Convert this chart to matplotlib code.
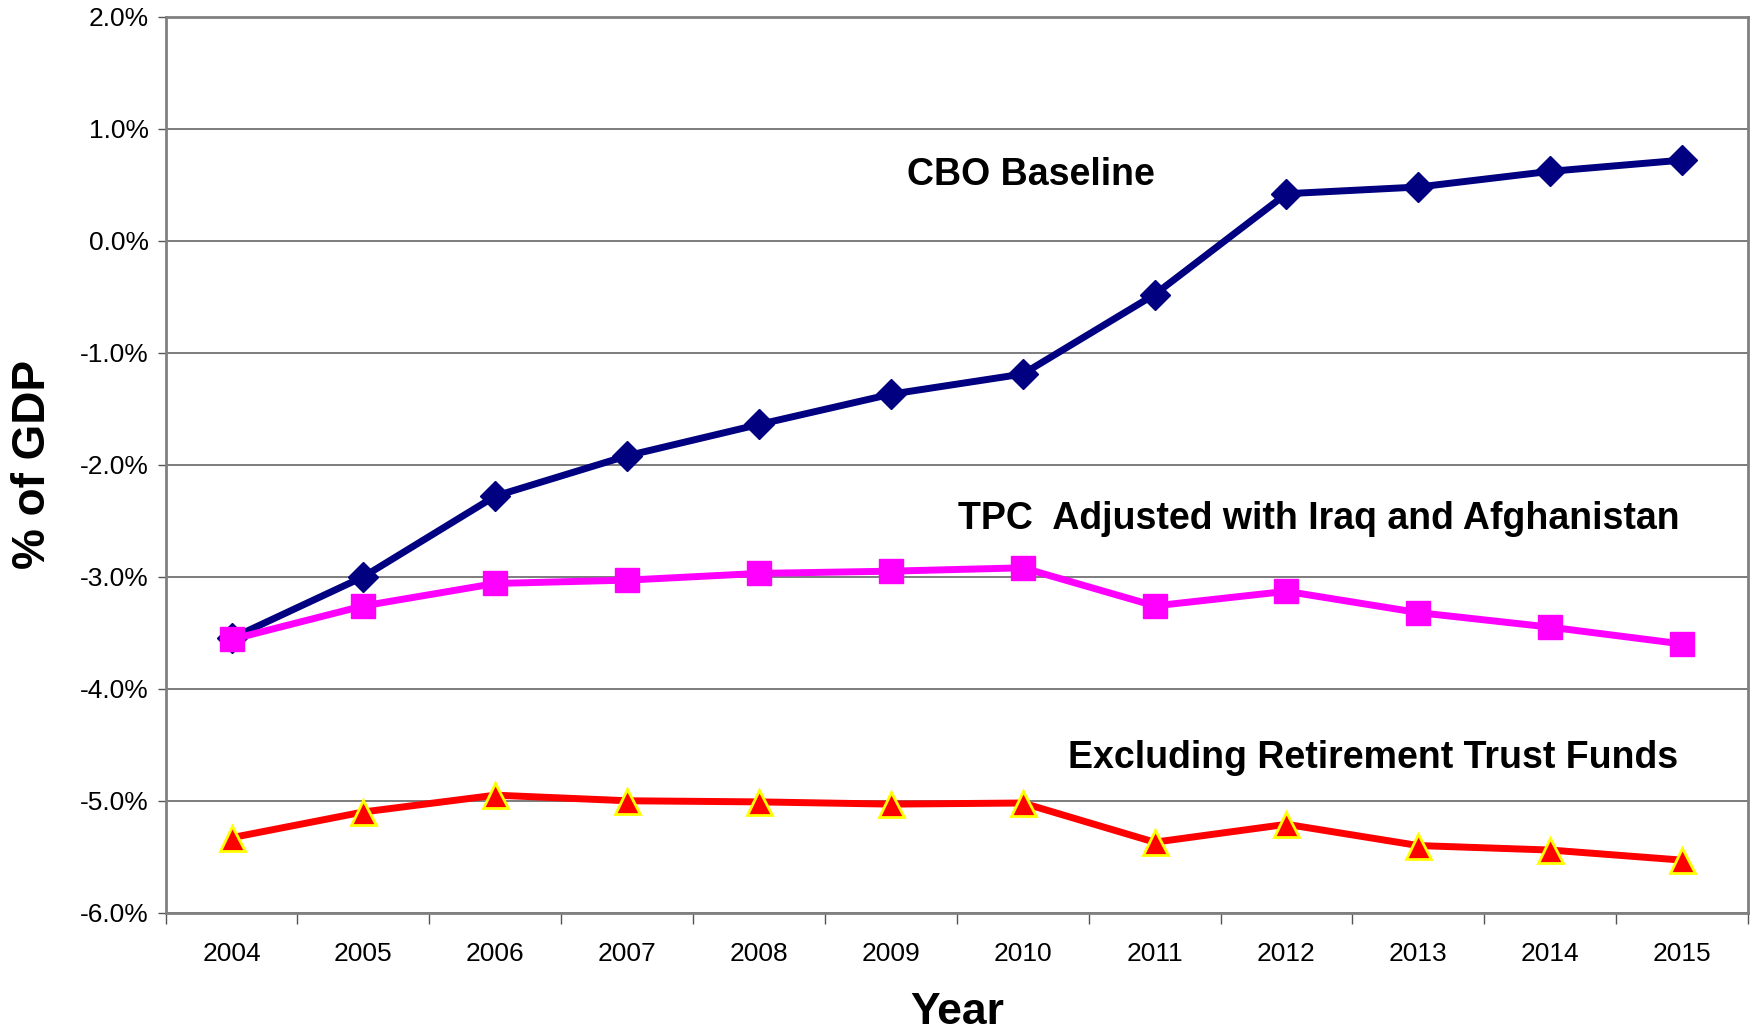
import numpy as np
import matplotlib.pyplot as plt
from matplotlib.ticker import FuncFormatter, FixedLocator

plt.rcParams['font.family'] = ['Liberation Sans', 'DejaVu Sans']

# data (% of GDP)
years = [2004, 2005, 2006, 2007, 2008, 2009, 2010, 2011, 2012, 2013, 2014, 2015]
cbo_baseline = [-3.55, -3.00, -2.28, -1.92, -1.64, -1.37, -1.19, -0.48, 0.42, 0.48, 0.62, 0.72]
tpc_adjusted = [-3.56, -3.26, -3.06, -3.03, -2.97, -2.95, -2.92, -3.26, -3.13, -3.32, -3.45, -3.60]
excl_trust = [-5.33, -5.10, -4.95, -5.00, -5.01, -5.03, -5.02, -5.37, -5.21, -5.40, -5.44, -5.53]
y_ticks = [2, 1, 0, -1, -2, -3, -4, -5, -6]

x = np.arange(len(years))

fig = plt.figure(figsize=(17.54, 10.35), dpi=100)
ax = fig.add_axes([0.0944, 0.1181, 0.9022, 0.8657])

ax.plot(x, cbo_baseline, color='#000080', lw=5, marker='D', ms=15,
        mfc='#000080', mec='#000080', zorder=3)
ax.plot(x, tpc_adjusted, color='#FF00FF', lw=5, marker='s', ms=17,
        mfc='#FF00FF', mec='#FF00FF', zorder=4)
ax.plot(x, excl_trust, color='#FF0000', lw=5, marker='^', ms=18,
        mfc='#FF0000', mec='#FFFF00', mew=2, zorder=4)

ax.set_xlim(-0.5, len(years) - 0.5)
ax.set_ylim(-6, 2)

ax.set_yticks(y_ticks)
ax.yaxis.set_major_formatter(FuncFormatter(lambda v, p: f"{v:.1f}%"))
ax.grid(axis='y', color='#666666', lw=1.2)
ax.set_axisbelow(True)

ax.set_xticks(x)
ax.set_xticklabels([str(y) for y in years])
ax.xaxis.set_minor_locator(FixedLocator(np.arange(-0.5, len(years), 1)))
ax.tick_params(axis='x', which='major', length=0, pad=21, labelsize=19)
ax.tick_params(axis='x', which='minor', length=8, width=1, color='#555555', direction='out')
ax.tick_params(axis='y', length=6, width=1, color='#555555', labelsize=19, pad=6)

for s in ax.spines.values():
    s.set_color('#808080')
    s.set_linewidth(2)

ax.set_xlabel('Year', fontsize=32, fontweight='bold', labelpad=19)
ax.set_ylabel('% of GDP', fontsize=33, fontweight='bold', labelpad=18)

ax.text(5.12, 0.59, 'CBO Baseline', fontsize=27, fontweight='bold', va='center', ha='left')
ax.text(5.51, -2.48, 'TPC  Adjusted with Iraq and Afghanistan', fontsize=27,
        fontweight='bold', va='center', ha='left')
ax.text(6.34, -4.62, 'Excluding Retirement Trust Funds', fontsize=27,
        fontweight='bold', va='center', ha='left')

fig.savefig('out.png', dpi=100)
